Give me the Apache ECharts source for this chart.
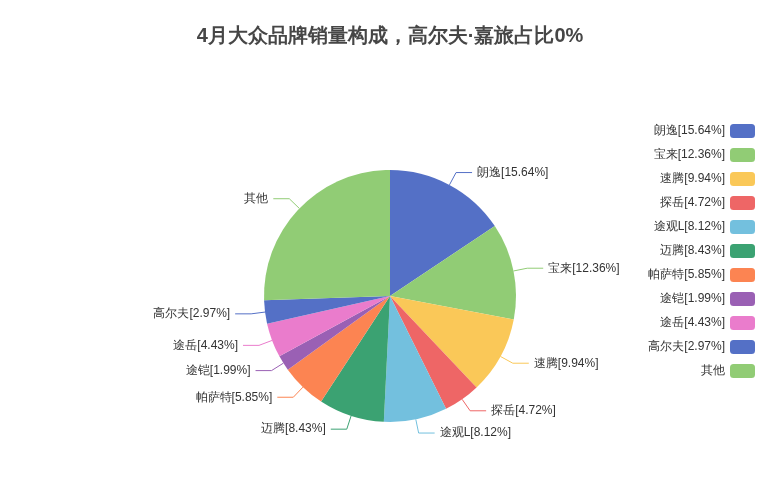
<!DOCTYPE html>
<html>
<head>
<meta charset="utf-8">
<script src="https://cdn.jsdelivr.net/npm/echarts@6/dist/echarts.min.js"></script>
<style>
  html, body { margin: 0; padding: 0; background: #fff; }
  #main { width: 780px; height: 480px; }
</style>
</head>
<body>
<div id="main"></div>
<script>
// brand names with their share already baked into the label, like the source chart
var names = ['朗逸[15.64%]', '宝来[12.36%]', '速腾[9.94%]', '探岳[4.72%]', '途观L[8.12%]',
             '迈腾[8.43%]', '帕萨特[5.85%]', '途铠[1.99%]', '途岳[4.43%]', '高尔夫[2.97%]', '其他'];
var values = [15.64, 12.36, 9.94, 4.72, 8.12, 8.43, 5.85, 1.99, 4.43, 2.97, 25.55];

var chart = echarts.init(document.getElementById('main'));

chart.setOption({
    // classic palette
    color: ['#5470c6', '#91cc75', '#fac858', '#ee6666', '#73c0de', '#3ba272',
            '#fc8452', '#9a60b4', '#ea7ccc'],
    title: {
        text: '4月大众品牌销量构成，高尔夫·嘉旅占比0%',
        left: 'center',
        top: 21,
        textStyle: {
            fontSize: 20,
            fontWeight: 'bold',
            color: '#464646'
        }
    },
    legend: {
        orient: 'vertical',
        right: 20,
        top: 119,
        align: 'right',
        itemWidth: 25,
        itemHeight: 14,
        itemGap: 10,
        textStyle: { fontSize: 12, color: '#333' },
        data: names
    },
    series: [
        {
            type: 'pie',
            center: [390, 296],
            radius: 126,
            startAngle: 90,
            label: {
                fontSize: 12,
                color: '#333'
            },
            labelLine: {
                length: 14,
                length2: 16
            },
            data: names.map(function (n, i) {
                return { name: n, value: values[i] };
            })
        }
    ]
});
</script>
</body>
</html>
